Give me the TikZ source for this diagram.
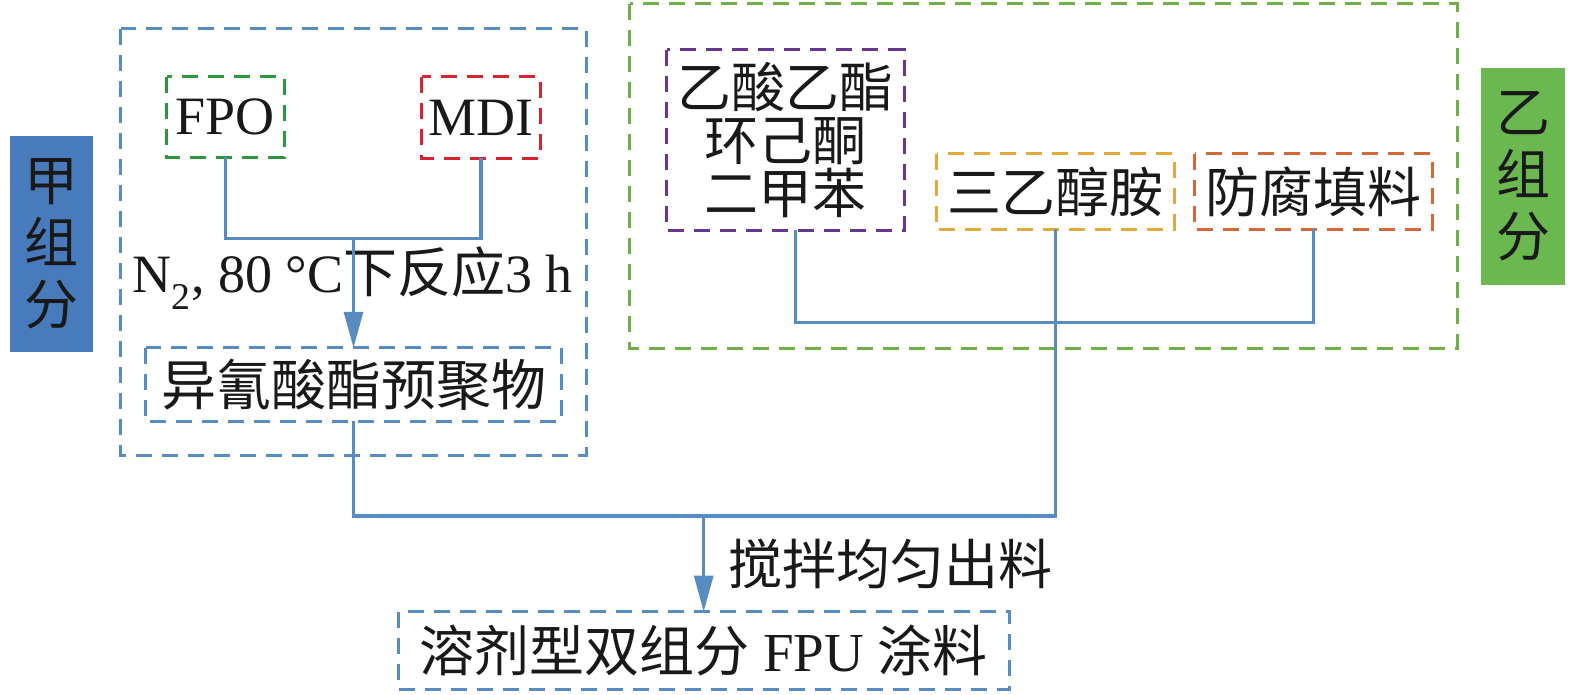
\documentclass[tikz,border=0pt]{standalone}
\usepackage{fontspec}
\setmainfont{Liberation Serif}
\newfontfamily\cjk{Noto Sans CJK SC}
\usetikzlibrary{arrows.meta}
\definecolor{cblue}{RGB}{88,139,192}
\definecolor{afill}{RGB}{71,123,188}
\definecolor{bfill}{RGB}{106,184,79}
\definecolor{cgreen}{RGB}{46,150,60}
\definecolor{cred}{RGB}{215,35,45}
\definecolor{lgreen}{RGB}{112,173,71}
\definecolor{cpurple}{RGB}{102,55,140}
\definecolor{cyellow}{RGB}{224,170,60}
\definecolor{corange}{RGB}{210,105,55}
\begin{document}
\begin{tikzpicture}[x=1pt,y=-1pt,
  txt/.style={font=\fontsize{54}{60}\selectfont, text=black!90},
  dbox/.style={txt, inner sep=0pt},
  frame/.style={line width=3pt, dash pattern=on 16pt off 10pt},
  sidebox/.style={font=\cjk\fontsize{54}{62}\selectfont, text=black!90, align=center, inner sep=0pt},
  conn/.style={draw=cblue, line width=3.2pt},
  arr/.style={conn, -{Triangle[length=36pt,width=19pt]}}]
\useasboundingbox (0,0) rectangle (1575,695);
% side labels
\node[sidebox, fill=afill, minimum width=83pt, minimum height=216pt] (A) at (51.5,244) {甲\\组\\分};
\node[sidebox, fill=bfill, minimum width=84pt, minimum height=217pt] (B) at (1523,176.5) {乙\\组\\分};
% group frames
\node[dbox, minimum width=465pt, minimum height=426pt] (outA) at (353.3,242) {};
\node[dbox, minimum width=827pt, minimum height=344pt] (outB) at (1043.5,176) {};
% A components
\node[dbox, minimum width=117pt, minimum height=80pt] (FPO) at (225.3,117) {FPO};
\node[dbox, minimum width=118pt, minimum height=81pt] (MDI) at (481,117.5) {MDI};
\node[dbox, minimum width=415pt, minimum height=73pt, font=\cjk\fontsize{55}{60}\selectfont] (pre) at (353.5,384.5) {异氰酸酯预聚物};
% B components
\node[dbox, minimum width=237pt, minimum height=180pt, align=center, font=\cjk\fontsize{54}{53}\selectfont] (sol) at (785.5,140) {乙酸乙酯\\环己酮\\二甲苯};
\node[dbox, minimum width=237pt, minimum height=75pt, font=\cjk\fontsize{54}{60}\selectfont] (TEA) at (1055.3,191.7) {三乙醇胺};
\node[dbox, minimum width=237pt, minimum height=75pt, font=\cjk\fontsize{54}{60}\selectfont] (fil) at (1313.3,191.7) {防腐填料};
% product
\node[dbox, minimum width=611pt, minimum height=77pt, font=\fontsize{55}{60}\selectfont] (FPU) at (703.7,650.3) {{\cjk 溶剂型双组分} FPU {\cjk 涂料}};
% frames of the boxes
\foreach \n/\c in {outA/cblue, outB/lgreen, FPO/cgreen, MDI/cred, pre/cblue, sol/cpurple, TEA/cyellow, fil/corange, FPU/cblue}
  \draw[frame, draw=\c] (\n.north west) rectangle (\n.south east);
% labels
\node[txt, anchor=base, inner sep=0pt] (lab1) at (353,293) {N\textsubscript{2}, 80 °C{\cjk 下反应}3 h};
\node[txt, anchor=base west, inner sep=0pt, font=\cjk\fontsize{54}{60}\selectfont] (lab2) at (728,584) {搅拌均匀出料};
% connectors
\coordinate (yA) at (0,238.5);
\coordinate (yB) at (0,322.3);
\coordinate (yC) at (0,516);
\draw[conn] (FPO.south) |- (MDI.south |- yA) -- (MDI.south);
\draw[arr] (pre.north |- yA) -- (pre.north);
\draw[conn] ([xshift=10pt]sol.south) |- (fil.south |- yB) -- (fil.south);
\draw[conn] (pre.south) |- (TEA.south |- yC) -- (TEA.south);
\draw[arr] (FPU.north |- yC) -- (FPU.north);
\end{tikzpicture}
\end{document}
